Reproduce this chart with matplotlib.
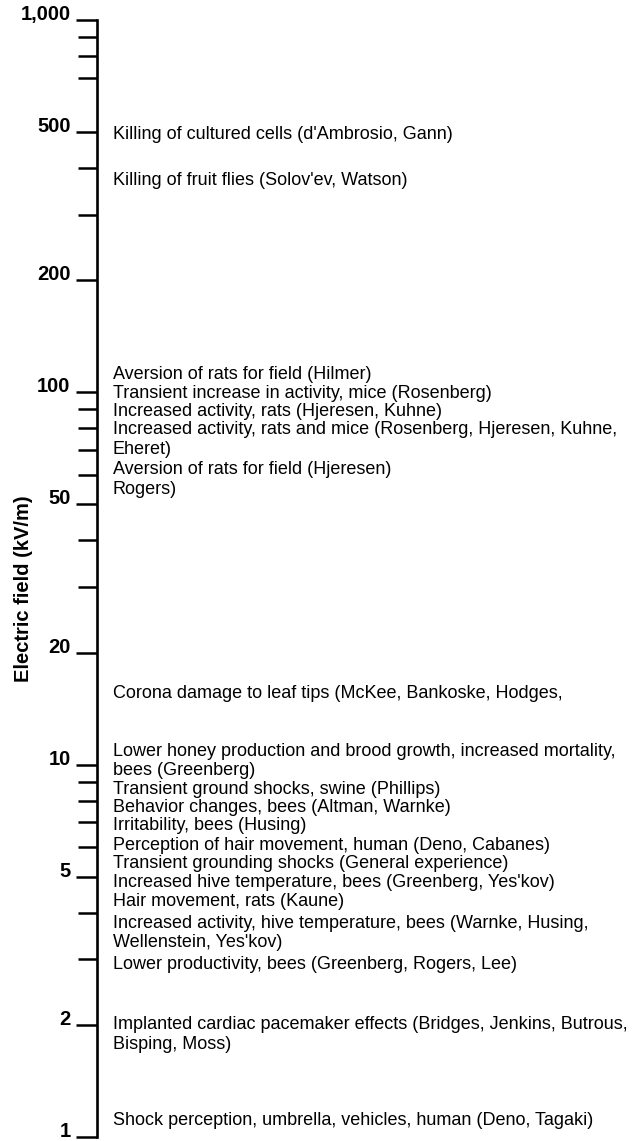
import matplotlib
matplotlib.use("Agg")
import matplotlib.pyplot as plt
from matplotlib.ticker import FixedLocator, NullFormatter

plt.rcParams['font.family'] = ['Liberation Sans', 'DejaVu Sans']

# labelled levels on the field scale (kV/m)
major_ticks = [1, 2, 5, 10, 20, 50, 100, 200, 500, 1000]
major_labels = ["1", "2", "5", "10", "20", "50", "100", "200", "500", "1,000"]
minor_ticks = [3, 4, 6, 7, 8, 9, 30, 40, 60, 70, 80, 90, 300, 400, 700, 800, 900]

# field level (kV/m) at which each reported effect is listed
effect_fields = [500, 375, 113, 100.5, 90, 80.5, 63, 55.5, 15.7, 11,
                 8.7, 7.75, 6.95, 6.15, 5.5, 4.9, 4.35, 3.8, 2.95, 2.03, 1.12]
effects = [
    "Killing of cultured cells (d'Ambrosio, Gann)",
    "Killing of fruit flies (Solov'ev, Watson)",
    "Aversion of rats for field (Hilmer)",
    "Transient increase in activity, mice (Rosenberg)",
    "Increased activity, rats (Hjeresen, Kuhne)",
    "Increased activity, rats and mice (Rosenberg, Hjeresen, Kuhne,\nEheret)",
    "Aversion of rats for field (Hjeresen)",
    "Rogers)",
    "Corona damage to leaf tips (McKee, Bankoske, Hodges,",
    "Lower honey production and brood growth, increased mortality,\nbees (Greenberg)",
    "Transient ground shocks, swine (Phillips)",
    "Behavior changes, bees (Altman, Warnke)",
    "Irritability, bees (Husing)",
    "Perception of hair movement, human (Deno, Cabanes)",
    "Transient grounding shocks (General experience)",
    "Increased hive temperature, bees (Greenberg, Yes'kov)",
    "Hair movement, rats (Kaune)",
    "Increased activity, hive temperature, bees (Warnke, Husing,\nWellenstein, Yes'kov)",
    "Lower productivity, bees (Greenberg, Rogers, Lee)",
    "Implanted cardiac pacemaker effects (Bridges, Jenkins, Butrous,\nBisping, Moss)",
    "Shock perception, umbrella, vehicles, human (Deno, Tagaki)",
]

fig = plt.figure(figsize=(6.44, 11.41), dpi=100)
ax = fig.add_axes([0.1506, 0.0035, 0.8494, 0.979])

ax.set_yscale("log")
ax.set_ylim(1, 1000)
ax.set_xlim(0, 1)

for side in ["top", "right", "bottom"]:
    ax.spines[side].set_visible(False)
ax.spines["left"].set_linewidth(1.9)
ax.set_xticks([])

ax.yaxis.set_major_locator(FixedLocator(major_ticks))
ax.yaxis.set_minor_locator(FixedLocator(minor_ticks))
ax.yaxis.set_minor_formatter(NullFormatter())
ax.set_yticklabels(major_labels, fontsize=14.5, fontweight="bold", va="baseline")
ax.tick_params(axis="y", which="major", direction="out", length=15, width=1.8, pad=4)
ax.tick_params(axis="y", which="minor", direction="out", length=14, width=1.8)

fig.text(0.036, 0.484, "Electric field (kV/m)", rotation=90,
         ha="center", va="center", fontsize=14.5, fontweight="bold")

# first line sits on the field level, wrapped lines follow below it
for field, label in zip(effect_fields, effects):
    for i, line in enumerate(label.split("\n")):
        ax.annotate(line, xy=(0.029, field), xycoords=ax.get_yaxis_transform(),
                    xytext=(0, -14.2 * i), textcoords="offset points",
                    ha="left", va="center_baseline", fontsize=13,
                    annotation_clip=False)

fig.savefig("out.png", dpi=100)
